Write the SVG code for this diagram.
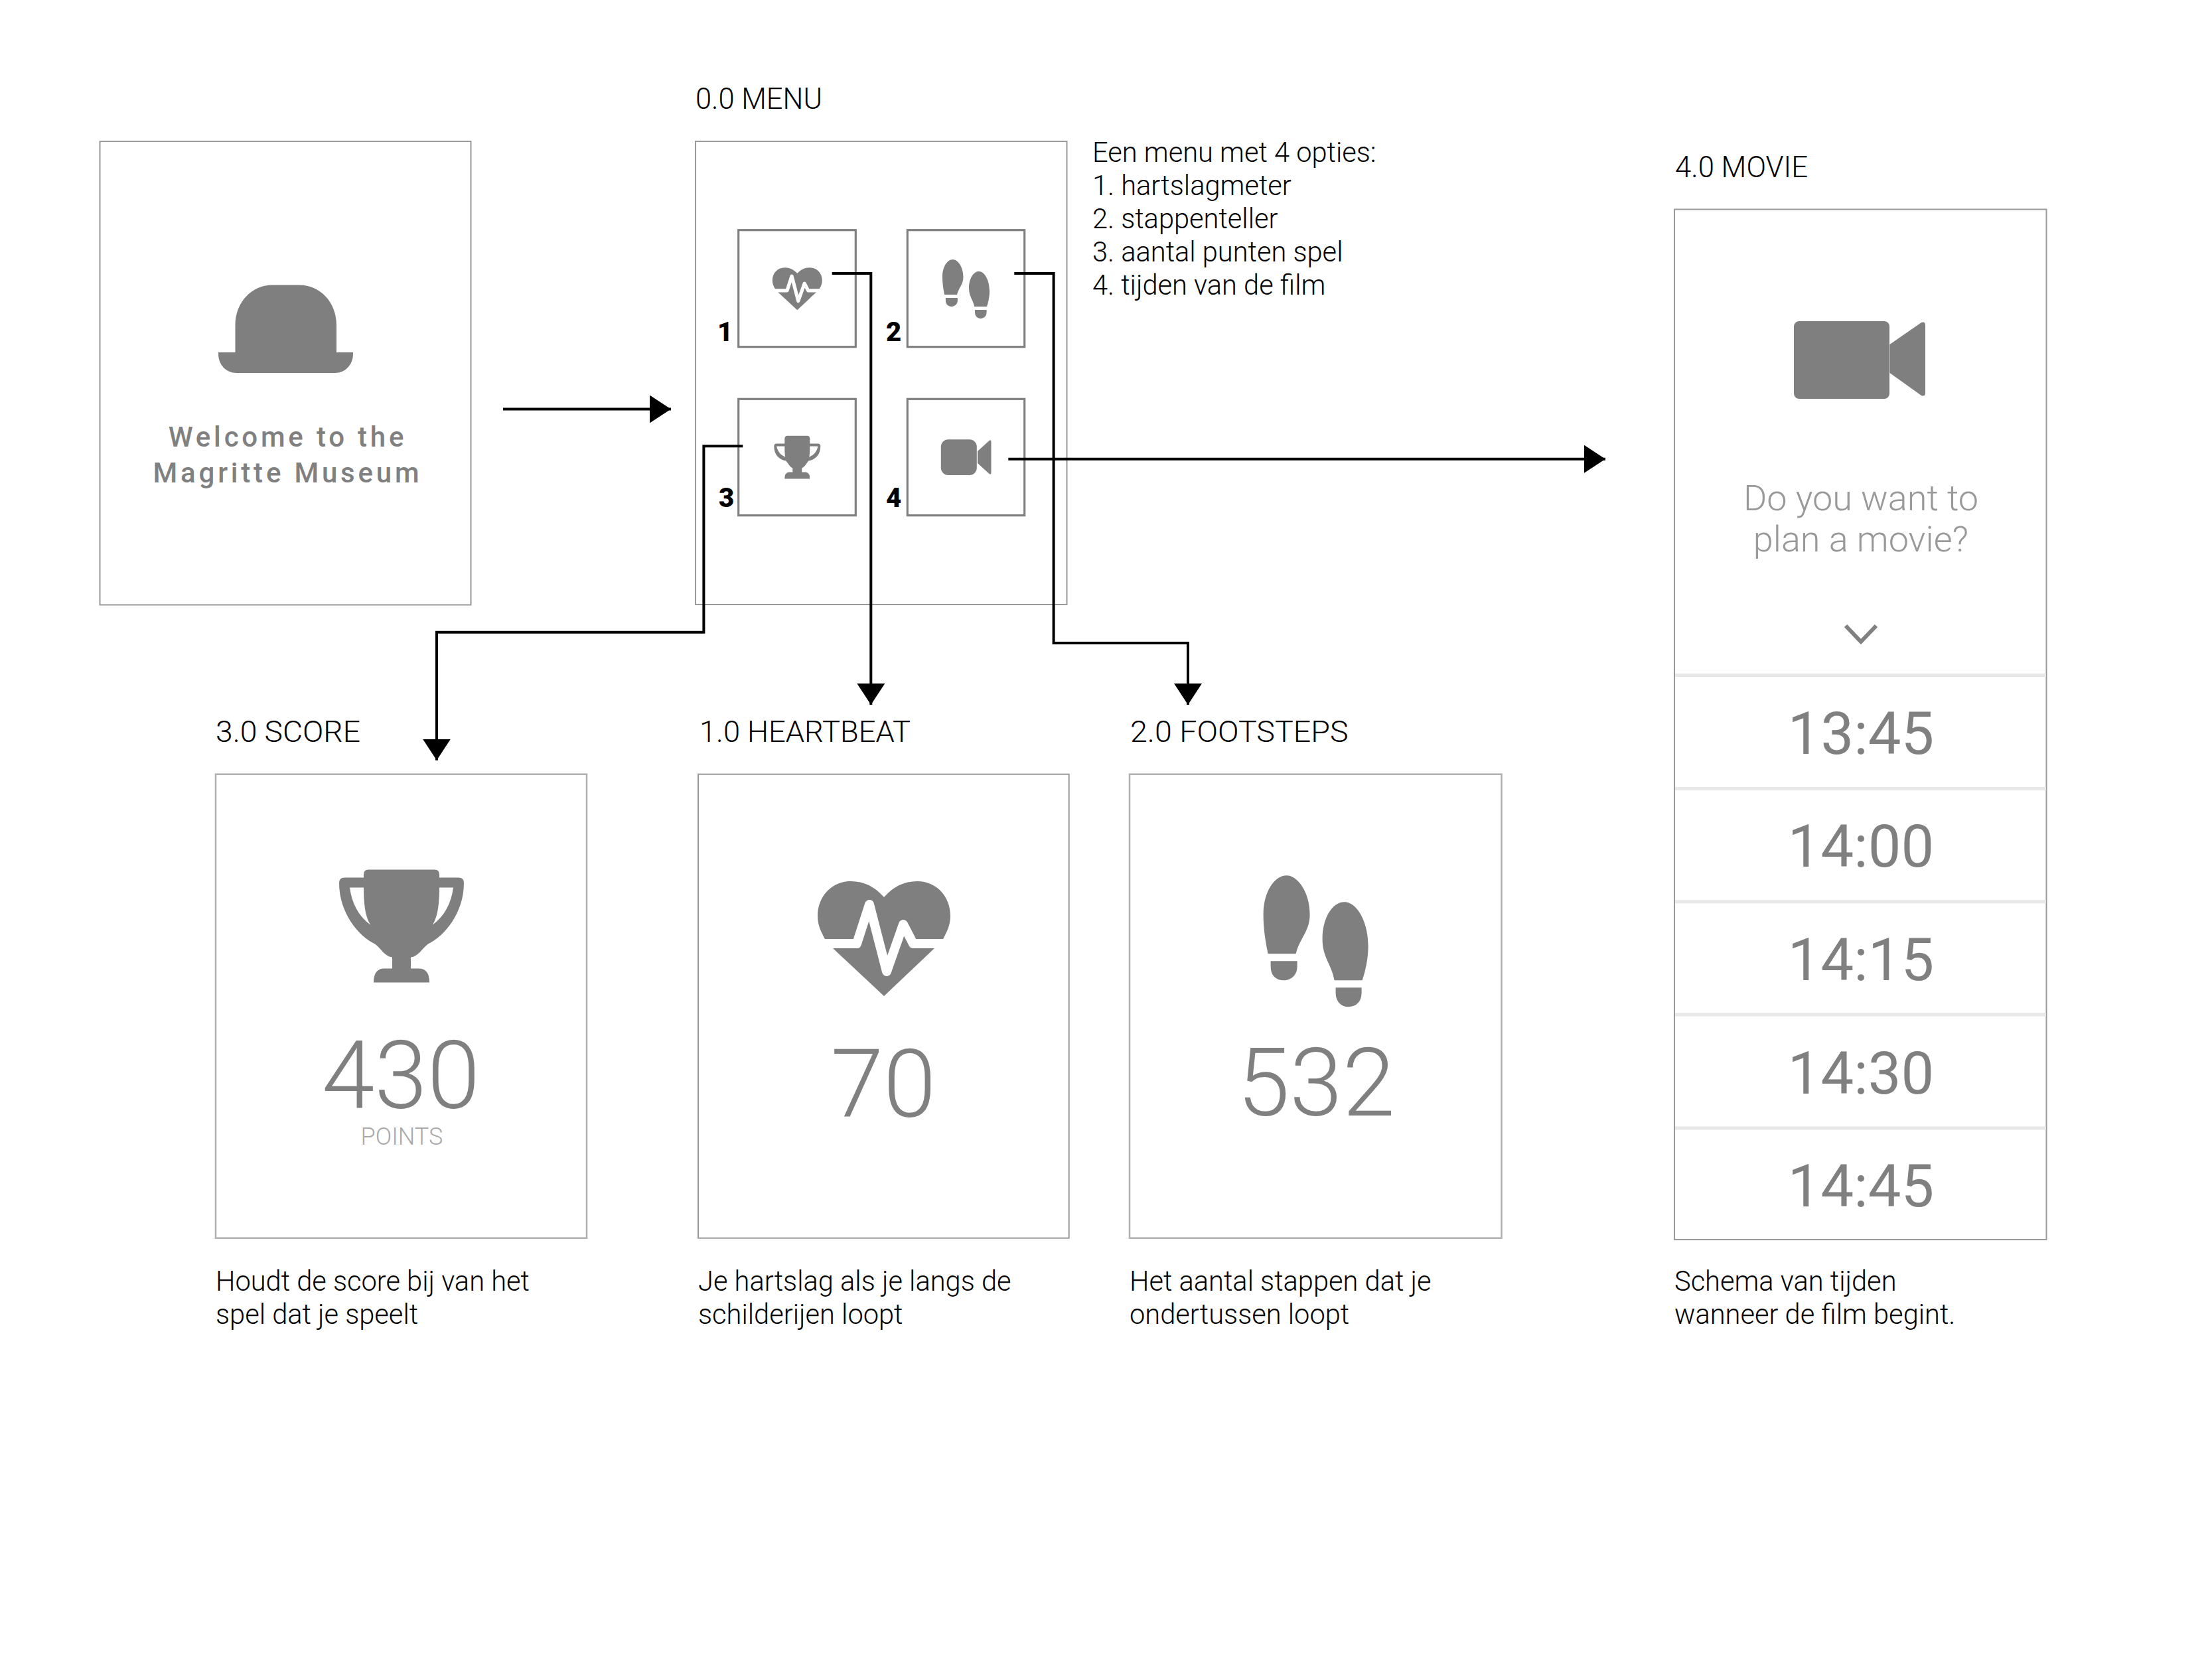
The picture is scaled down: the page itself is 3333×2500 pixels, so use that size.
<svg xmlns="http://www.w3.org/2000/svg" width="3333" height="2500" viewBox="0 0 3333 2500">
<style>
text{font-family:Roboto,"Liberation Sans",sans-serif}
.frame{fill:#fff;stroke:#999;stroke-width:2}
.pale{fill:#fff;stroke:#b0b0b0;stroke-width:2.500}
.tile{fill:#fff;stroke:#808080;stroke-width:3.200}
.ic{fill:#7f7f7f}
.title{font-size:45px;font-weight:300;fill:#000}
.desc{font-size:41.600px;font-weight:300;fill:#000}
.big{font-size:143px;font-weight:300;fill:#808080;text-anchor:middle}
.num{font-size:40px;font-weight:900;fill:#000}
.time{font-size:88.500px;font-weight:400;fill:#808080;text-anchor:middle}
.ask{font-size:54px;font-weight:300;fill:#999;text-anchor:middle}
.wel{font-size:42px;font-weight:500;fill:#808080;text-anchor:middle;letter-spacing:4.800px}
.div{stroke:#e8e8e8;stroke-width:5}
.con{fill:none;stroke:#000;stroke-width:4}
</style>
<defs>
<marker id="ah" markerUnits="userSpaceOnUse" markerWidth="32" markerHeight="42" refX="32" refY="21" orient="auto"><path d="M0,0L32,21L0,42Z" fill="#000"/></marker>
<g id="i-heart"><path class="ic" d="M0,-62C14,-78 30,-86 50,-86C80,-86 100,-62 100,-34C100,-20 95,-10 89,1L76,15L0,87L-77,15L-89,1C-95,-10 -100,-20 -100,-34C-100,-62 -80,-86 -50,-86C-30,-86 -14,-78 0,-62Z"/><path d="M-100,8H-41L-22,-51L4,50L29,-21L44,8H100" fill="none" stroke="#fff" stroke-width="14" stroke-linejoin="round"/></g>
<g id="i-trophy"><path class="ic" fill-rule="evenodd" d="M-50,-85H50Q57,-85 57,-78V-73H86Q94,-73 94,-65C94,-20 65,15 40,27C30,35 25,46 14,47V64H26Q42,64 42,85H-42Q-42,64 -26,64H-14V47C-25,46 -30,35 -40,27C-65,15 -94,-20 -94,-65Q-94,-73 -86,-73H-57V-78Q-57,-85 -50,-85ZM-78,-58H-57C-57,-35 -55,-15 -47,-2C-65,-15 -75,-35 -78,-58ZM78,-58H57C57,-35 55,-15 47,-2C65,-15 75,-35 78,-58Z"/></g>
<g id="i-feet"><path class="ic" d="M-44,-99C-28,-99 -9,-75 -9,-40C-9,-15 -24,-5 -30,19H-72C-76,0 -79,-20 -79,-40C-79,-75 -62,-99 -44,-99ZM-68,30H-28V38C-28,52 -38,59 -48,59C-60,59 -68,52 -68,38ZM43,-59C62,-59 79,-30 79,8C79,25 75,45 70,59H28C24,35 10,25 10,-3C10,-35 25,-59 43,-59ZM30,70H69V78C69,92 60,99 49,99C39,99 30,92 30,78Z"/></g>
<g id="i-cam"><rect class="ic" x="-99" y="-58" width="144" height="117" rx="8"/><path class="ic" d="M45.500,-23L93,-56Q99,-58 99,-52V50Q99,56 93,54L45.500,20Z"/></g>
</defs>
<rect width="3333" height="2500" fill="#fff"/>
<g id="welcome">
<rect class="frame" x="150.500" y="213" width="559" height="698.500"/>
<path class="ic" d="M354.500,531V490C354.500,455 380,429.500 410,429.500H451C482,429.500 507,455 507,490V531ZM329,531H532V533C532,550 520,562 505,562H356C341,562 329,550 329,533Z"/>
<text class="wel" x="433.500" y="672.500">Welcome to the</text>
<text class="wel" x="433.500" y="726.500">Magritte Museum</text>
</g>
<g id="menu">
<text class="title" x="1048" y="164" textLength="191" lengthAdjust="spacingAndGlyphs">0.0 MENU</text>
<rect class="frame" x="1048" y="213" width="559.500" height="698"/>
<rect class="tile" x="1112.700" y="346.700" width="176.600" height="176"/>
<rect class="tile" x="1367.300" y="346.700" width="176.400" height="176"/>
<rect class="tile" x="1112.700" y="601.300" width="176.600" height="175.400"/>
<rect class="tile" x="1367.300" y="601.300" width="176.400" height="175.400"/>
<use href="#i-heart" transform="translate(1201.300,435) scale(.375,.37)"/>
<use href="#i-feet" transform="translate(1455.500,435.500) scale(.45)"/>
<path class="ic" transform="translate(1201.300,689.500)" fill-rule="evenodd" d="M-15,-32.700H15Q19,-32.700 19,-28V-21H31Q35,-21 35,-17C35,-5 28,3 17,5C13,10 11,14 7,16V22H13Q19,23 19,32H-19Q-19,23 -13,22H-7V16C-11,14 -13,10 -17,5C-28,3 -35,-5 -35,-17Q-35,-21 -31,-21H-19V-28Q-19,-32.700 -15,-32.700ZM-31,-17H-19C-19,-10 -19,-6 -18,-1C-24,-3 -30,-9 -31,-17ZM31,-17H19C19,-10 19,-6 18,-1C24,-3 30,-9 31,-17Z"/>
<g transform="translate(1455.500,689)"><rect class="ic" x="-37.700" y="-26.700" width="54" height="53.700" rx="11"/><path class="ic" d="M17.500,-9L35,-25Q38,-27 38,-23V23Q38,27 35,25L17.500,9Z"/></g>
<text class="num" x="1081" y="514">1</text>
<text class="num" x="1335" y="514">2</text>
<text class="num" x="1083" y="764">3</text>
<text class="num" x="1335" y="764">4</text>
<text class="desc"><tspan x="1646" y="243.500">Een menu met 4 opties:</tspan><tspan x="1646" y="293.500">1. hartslagmeter</tspan><tspan x="1646" y="343.500">2. stappenteller</tspan><tspan x="1646" y="393.500">3. aantal punten spel</tspan><tspan x="1646" y="443.500">4. tijden van de film</tspan></text>
</g>
<g id="score">
<text class="title" x="325" y="1117.500" textLength="218" lengthAdjust="spacingAndGlyphs">3.0 SCORE</text>
<rect class="pale" x="325" y="1166.700" width="559" height="699"/>
<use href="#i-trophy" transform="translate(605,1395.500)"/>
<text class="big" x="604" y="1670">430</text>
<text x="605.500" y="1724.700" text-anchor="middle" font-size="36" font-weight="300" fill="#aaa">POINTS</text>
<text class="desc"><tspan x="325" y="1945">Houdt de score bij van het</tspan><tspan x="325" y="1994.500">spel dat je speelt</tspan></text>
</g>
<g id="heartbeat">
<text class="title" x="1054" y="1117.500" textLength="318" lengthAdjust="spacingAndGlyphs">1.0 HEARTBEAT</text>
<rect class="frame" x="1052" y="1166.700" width="558.700" height="699"/>
<use href="#i-heart" transform="translate(1332,1414)"/>
<text class="big" x="1331" y="1682.500">70</text>
<text class="desc"><tspan x="1052" y="1945">Je hartslag als je langs de</tspan><tspan x="1052" y="1994.500">schilderijen loopt</tspan></text>
</g>
<g id="footsteps">
<text class="title" x="1703" y="1117.500" textLength="328.600" lengthAdjust="spacingAndGlyphs">2.0 FOOTSTEPS</text>
<rect class="pale" x="1702" y="1166.700" width="560.500" height="699"/>
<use href="#i-feet" transform="translate(1982.600,1418.300)"/>
<text class="big" x="1983" y="1681">532</text>
<text class="desc"><tspan x="1702" y="1945">Het aantal stappen dat je</tspan><tspan x="1702" y="1994.500">ondertussen loopt</tspan></text>
</g>
<g id="movie">
<text class="title" x="2524" y="267" textLength="200" lengthAdjust="spacingAndGlyphs">4.0 MOVIE</text>
<rect class="frame" x="2523" y="315.500" width="560.500" height="1552.500"/>
<use href="#i-cam" transform="translate(2802,542)"/>
<text class="ask" x="2804" y="769">Do you want to</text>
<text class="ask" x="2804" y="831.400">plan a movie?</text>
<path d="M2781,943L2804,967L2827,943" fill="none" stroke="#808080" stroke-width="6"/>
<path class="div" d="M2524,1017.600H3083M2524,1188.400H3083M2524,1358.700H3083M2524,1529H3083M2524,1700H3083"/>
<text class="time" x="2804" y="1136">13:45</text>
<text class="time" x="2804" y="1306">14:00</text>
<text class="time" x="2804" y="1477">14:15</text>
<text class="time" x="2804" y="1647.600">14:30</text>
<text class="time" x="2804" y="1818">14:45</text>
<text x="2523" y="1945" class="desc">Schema van tijden</text>
<text x="2523" y="1994.500" class="desc">wanneer de film begint.</text>
</g>
<g id="connectors">
<path class="con" marker-end="url(#ah)" d="M758,616.500H1011"/>
<path class="con" marker-end="url(#ah)" d="M1253.700,412H1312.300V1062"/>
<path class="con" marker-end="url(#ah)" d="M1528.300,412H1587.600V969H1790V1062"/>
<path class="con" marker-end="url(#ah)" d="M1119.300,672.300H1060.400V952.700H658V1145.700"/>
<path class="con" marker-end="url(#ah)" d="M1519.300,691.700H2419"/>
</g>
</svg>
